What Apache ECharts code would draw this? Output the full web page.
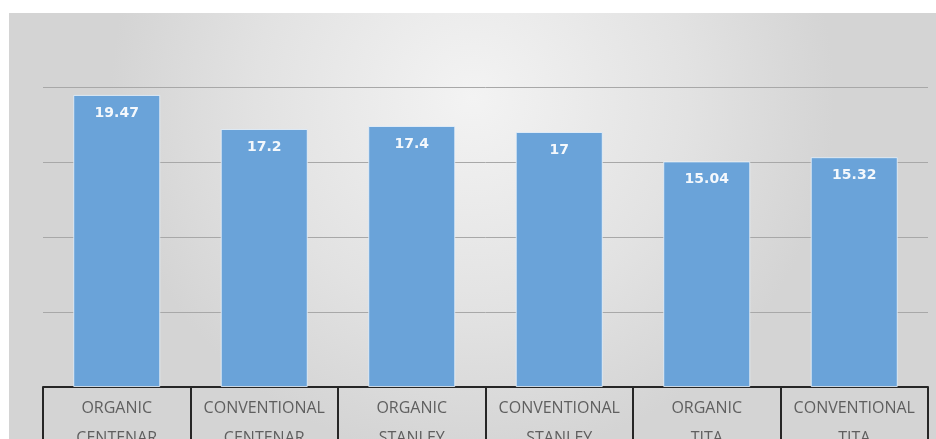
<!DOCTYPE html>
<html><head><meta charset="utf-8">
<script src="https://cdn.jsdelivr.net/npm/echarts@6/dist/echarts.min.js"></script>
<style>html,body{margin:0;padding:0;background:#fff}#c{width:936px;height:439px}</style>
</head><body><div id="c"></div>
<script>
const categories = ['ORGANIC\nCENTENAR','CONVENTIONAL\nCENTENAR','ORGANIC\nSTANLEY','CONVENTIONAL\nSTANLEY','ORGANIC\nTITA','CONVENTIONAL\nTITA'];
const values = [19.47, 17.2, 17.4, 17, 15.04, 15.32];
const valueLabels = ['19.47','17.2','17.4','17','15.04','15.32'];

const chart = echarts.init(document.getElementById('c'));
chart.setOption({
  animation: false,
  backgroundColor: '#ffffff',
  graphic: [{
    type: 'rect', z: -10, silent: true,
    shape: {x: 9, y: 13, width: 927, height: 426},
    style: {fill: new echarts.graphic.RadialGradient(0.5, 0.2, 0.85, [
      {offset: 0, color: '#f3f3f3'},
      {offset: 0.6, color: '#e2e2e2'},
      {offset: 1, color: '#d4d4d4'}
    ])}
  }],
  grid: {left: 43, right: 8, top: 87, bottom: 52, containLabel: false, outerBoundsMode: 'none'},
  xAxis: {
    type: 'category',
    data: categories,
    boundaryGap: true,
    axisLine: {show: true, lineStyle: {color: '#262626', width: 2}},
    axisTick: {show: true, length: 70, lineStyle: {color: '#262626', width: 2}},
    axisLabel: {
      color: '#5f5f5f', fontSize: 16, fontFamily: 'Open Sans, Liberation Sans, sans-serif',
      lineHeight: 30, margin: 6, interval: 0
    }
  },
  yAxis: {
    type: 'value', min: 0, max: 20, interval: 5,
    axisLabel: {show: false}, axisLine: {show: false}, axisTick: {show: false},
    splitLine: {lineStyle: {color: '#a8a8a8', width: 1}}
  },
  series: [{
    type: 'bar',
    data: values,
    barWidth: '59%',
    itemStyle: {color: '#6aa3d9', borderColor: 'rgba(235,242,250,0.8)', borderWidth: 1},
    label: {
      show: true, position: 'insideTop', distance: 11,
      color: '#f4f8fc', fontSize: 14, fontWeight: 'bold',
      fontFamily: 'DejaVu Sans, Verdana, sans-serif',
      formatter: p => valueLabels[p.dataIndex]
    }
  }]
});
</script></body></html>
